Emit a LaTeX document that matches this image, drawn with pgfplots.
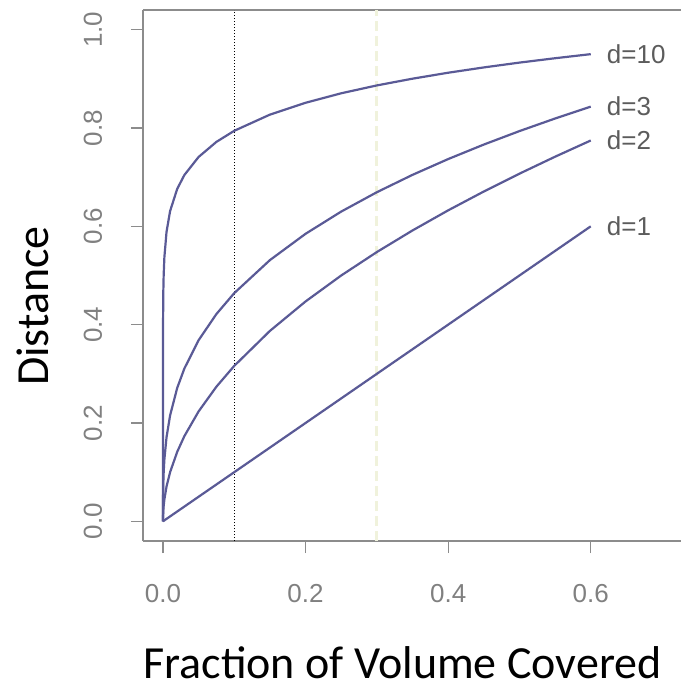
\documentclass[border=0pt]{standalone}
\usepackage{fontspec}
\usepackage{pgfplots}
\usepackage{pgfplotstable}
\pgfplotsset{compat=1.18}
\setmainfont{Liberation Sans}
\newfontfamily\labfont{Carlito}
\definecolor{curve}{HTML}{5A5A96}
\definecolor{ticklab}{HTML}{808080}
\definecolor{dlab}{HTML}{5C5C5C}
\definecolor{frame}{HTML}{8C8C8C}
\definecolor{paleyel}{HTML}{F0F2DC}

\pgfplotstableread{
r        d2      d3      d10
0        0       0       0
1e-10    0.00001 0.00046 0.1000
1e-8     0.0001  0.00215 0.1585
1e-6     0.0010  0.0100  0.2512
1e-5     0.00316 0.0215  0.3162
1e-4     0.0100  0.0464  0.3981
5e-4     0.0224  0.0794  0.4676
0.001    0.0316  0.1000  0.5012
0.002    0.0447  0.1260  0.5372
0.005    0.0707  0.1710  0.5887
0.01     0.1000  0.2154  0.6310
0.02     0.1414  0.2714  0.6762
0.03     0.1732  0.3107  0.7043
0.05     0.2236  0.3684  0.7411
0.075    0.2739  0.4217  0.7718
0.1      0.3162  0.4642  0.7943
0.15     0.3873  0.5313  0.8272
0.2      0.4472  0.5848  0.8513
0.25     0.5000  0.6300  0.8706
0.3      0.5477  0.6694  0.8866
0.35     0.5916  0.7047  0.9003
0.4      0.6325  0.7368  0.9124
0.45     0.6708  0.7663  0.9232
0.5      0.7071  0.7937  0.9330
0.55     0.7416  0.8193  0.9419
0.6      0.7746  0.8434  0.9502
}\curves

\begin{document}
\begin{tikzpicture}
\begin{axis}[
  scale only axis, width=539bp, height=531bp,
  xmin=-0.028, xmax=0.728, ymin=-0.04, ymax=1.04,
  axis x line*=box, axis y line*=left,
  axis line style={frame, line width=1.3bp},
  tick pos=left, tick align=outside,
  major tick length=12bp,
  tick style={frame, line width=1.3bp},
  xtick={0,0.2,0.4,0.6}, xticklabels={0.0,0.2,0.4,0.6},
  ytick={0,0.2,0.4,0.6,0.8,1.0}, yticklabels={0.0,0.2,0.4,0.6,0.8,1.0},
  ticklabel style={font=\fontsize{26bp}{30bp}\selectfont, text=ticklab, inner sep=0pt},
  xticklabel style={anchor=base, yshift=-49bp},
  yticklabel style={rotate=90, anchor=base, yshift=29bp},
  clip=false,
]
\addplot[paleyel, line width=3bp, dash pattern=on 10bp off 5bp] coordinates {(0.3,-0.04) (0.3,1.04)};
\addplot[black, line width=1.5bp, dash pattern=on 1.3bp off 1.7bp] coordinates {(0.1,-0.04) (0.1,1.04)};
\addplot[curve, line width=2.2bp] coordinates {(0,0) (0.6,0.6)};
\addplot[curve, line width=2.2bp] table[x=r, y=d2] {\curves};
\addplot[curve, line width=2.2bp] table[x=r, y=d3] {\curves};
\addplot[curve, line width=2.2bp] table[x=r, y=d10] {\curves};
\begin{scope}[every node/.style={anchor=west, inner sep=0pt, text=dlab, font=\fontsize{26bp}{30bp}\selectfont, xshift=16bp}]
\node at (axis cs:0.6,0.9502) {d=10};
\node at (axis cs:0.6,0.8434) {d=3};
\node at (axis cs:0.6,0.7746) {d=2};
\node at (axis cs:0.6,0.6) {d=1};
\end{scope}
\end{axis}
\node[anchor=base, inner sep=0pt, font=\labfont\fontsize{46bp}{50bp}\selectfont] at (259.5bp,-137bp) {Fraction of Volume Covered};
\node[anchor=base, rotate=90, inner sep=0pt, font=\labfont\fontsize{46bp}{50bp}\selectfont] at (-94bp,235bp) {Distance};
\pgfresetboundingbox
\useasboundingbox (-143bp,-145bp) rectangle (538bp,541bp);
\end{tikzpicture}
\end{document}
